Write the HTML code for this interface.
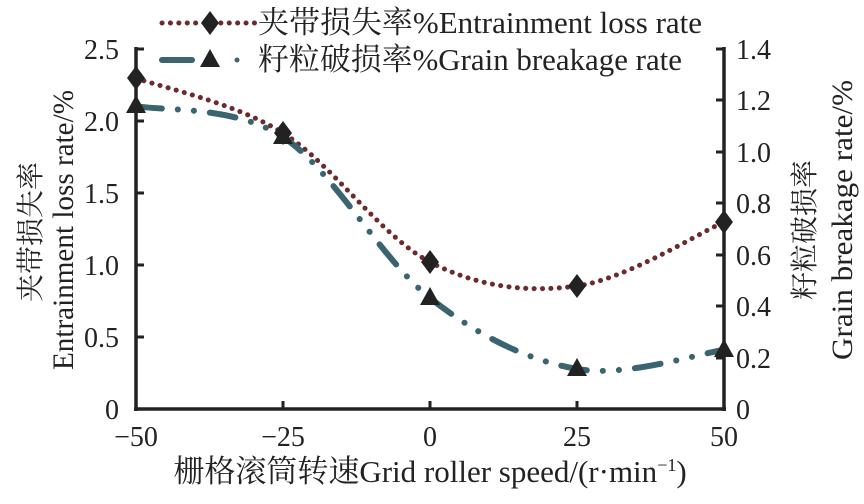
<!DOCTYPE html>
<html><head><meta charset="utf-8"><style>
body{margin:0;background:#fff;}
svg text{font-family:"Liberation Serif","Noto Serif CJK SC",serif;fill:#222;}
</style></head><body>
<svg width="864" height="499" viewBox="0 0 864 499">
<g stroke="#222" stroke-width="3.5" fill="none">
<line x1="136" y1="47" x2="136" y2="411"/>
<line x1="724" y1="47" x2="724" y2="411"/>
<line x1="134" y1="409" x2="726" y2="409"/>
</g>
<g stroke="#222" stroke-width="3">
<line x1="136" y1="49" x2="144" y2="49"/><line x1="136" y1="121" x2="144" y2="121"/><line x1="136" y1="193" x2="144" y2="193"/><line x1="136" y1="265" x2="144" y2="265"/><line x1="136" y1="337" x2="144" y2="337"/>
<line x1="716" y1="49" x2="724" y2="49"/><line x1="716" y1="100" x2="724" y2="100"/><line x1="716" y1="152" x2="724" y2="152"/><line x1="716" y1="203" x2="724" y2="203"/><line x1="716" y1="255" x2="724" y2="255"/><line x1="716" y1="306" x2="724" y2="306"/><line x1="716" y1="358" x2="724" y2="358"/>
<line x1="283" y1="401" x2="283" y2="409"/><line x1="430" y1="401" x2="430" y2="409"/><line x1="577" y1="401" x2="577" y2="409"/>
</g>
<g font-size="28" text-anchor="end">
<text x="119" y="59">2.5</text><text x="119" y="131">2.0</text><text x="119" y="203">1.5</text><text x="119" y="275">1.0</text><text x="119" y="347">0.5</text><text x="119" y="419">0</text>
</g>
<g font-size="28" text-anchor="start">
<text x="736" y="59">1.4</text><text x="736" y="110">1.2</text><text x="736" y="162">1.0</text><text x="736" y="213">0.8</text><text x="736" y="265">0.6</text><text x="736" y="316">0.4</text><text x="736" y="368">0.2</text><text x="736" y="419">0</text>
</g>
<g font-size="28" text-anchor="middle">
<text x="136" y="446">−50</text><text x="283" y="446">−25</text><text x="430" y="446">0</text><text x="577" y="446">25</text><text x="724" y="446">50</text>
</g>
<text x="430" y="482" font-size="31" text-anchor="middle">栅格滚筒转速Grid roller speed/(r·min<tspan font-size="18" dy="-11">−1</tspan><tspan dy="11">)</tspan></text>
<text transform="translate(40,232) rotate(-90)" font-size="28" text-anchor="middle">夹带损失率</text>
<text transform="translate(73,230) rotate(-90)" font-size="30" text-anchor="middle" textLength="280" lengthAdjust="spacingAndGlyphs">Entrainment loss rate/%</text>
<text transform="translate(814,230) rotate(-90)" font-size="28" text-anchor="middle">籽粒破损率</text>
<text transform="translate(852,220) rotate(-90)" font-size="30" text-anchor="middle" textLength="280" lengthAdjust="spacingAndGlyphs">Grain breakage rate/%</text>
<!-- entrainment -->
<path d="M136,78 C160.5,87.2 234,102.3 283,133 C332,163.7 381,236.5 430,262 C479,287.5 528,292.7 577,286 C626,279.3 699.5,232.7 724,222" fill="none" stroke="#6b2b2b" stroke-width="5" stroke-linecap="round" stroke-dasharray="0.1 8.3"/>
<!-- grain -->
<path d="M136,106 C160.5,111.2 234,105 283,137 C332,169 381,259.3 430,298 C479,336.7 528,360.3 577,369 C626,377.7 699.5,353.2 724,350" fill="none" stroke="#3a6470" stroke-width="6" stroke-linecap="round" stroke-dasharray="26 16 0.1 16 0.1 16"/>
<g fill="#222">
<polygon points="136,66 145,78 136,90 127,78"/><polygon points="283,121 292,133 283,145 274,133"/><polygon points="430,250 439,262 430,274 421,262"/><polygon points="577,274 586,286 577,298 568,286"/><polygon points="724,210 733,222 724,234 715,222"/>
<polygon points="136,95 146,113 126,113"/><polygon points="283,126 293,144 273,144"/><polygon points="430,287 440,305 420,305"/><polygon points="577,358 587,376 567,376"/><polygon points="724,339 734,357 714,357"/>
</g>
<!-- legend -->
<line x1="162" y1="23" x2="258" y2="23" stroke="#6b2b2b" stroke-width="5" stroke-linecap="round" stroke-dasharray="0.1 8.3"/>
<polygon points="210,11 219,23 210,35 201,23" fill="#fff"/>
<polygon points="210,11 219,23 210,35 201,23" fill="#222"/>
<text x="258" y="33" font-size="31" textLength="444" lengthAdjust="spacingAndGlyphs">夹带损失率%Entrainment loss rate</text>
<line x1="162" y1="60" x2="192" y2="60" stroke="#3a6470" stroke-width="6" stroke-linecap="round"/>
<circle cx="237" cy="60" r="2.5" fill="#3a6470"/>
<polygon points="210,49 220,67 200,67" fill="#222"/>
<text x="258" y="70" font-size="31" textLength="424" lengthAdjust="spacingAndGlyphs">籽粒破损率%Grain breakage rate</text>
</svg>
</body></html>
